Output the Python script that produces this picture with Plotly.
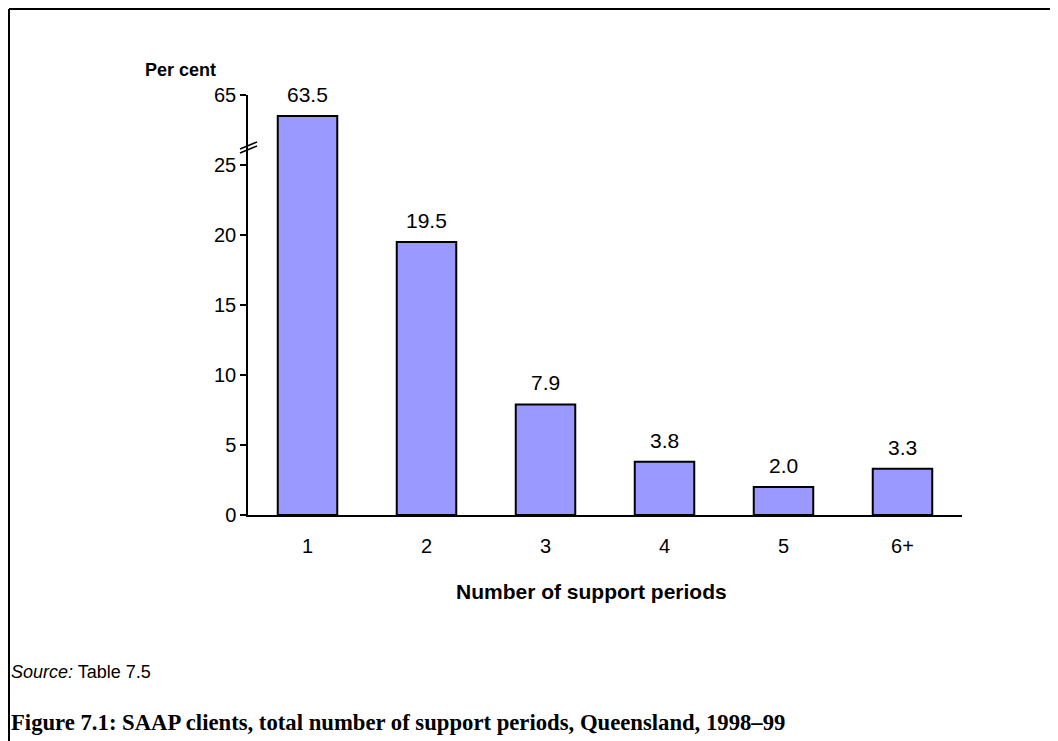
import plotly.graph_objects as go

categories = ["1", "2", "3", "4", "5", "6+"]
values = [63.5, 19.5, 7.9, 3.8, 2.0, 3.3]
tick_values = [0, 5, 10, 15, 20, 25, 65]

# broken axis: the band between BREAK_LOW and BREAK_HIGH is cut out
BREAK_LOW, BREAK_HIGH = 25, 60


def axis_pos(v):
    return v if v <= BREAK_LOW else v - (BREAK_HIGH - BREAK_LOW)


OFF = 8  # page body margin
W, H = 1058 - OFF, 741 - OFF
L, T = 248 - OFF, 95 - OFF
PW, PH = 714, 420
R, B = W - L - PW, H - T - PH


def px(x):
    return (x - OFF - L) / PW


def py(y):
    return (T + PH - (y - OFF)) / PH


plotted = [axis_pos(v) for v in values]
idx = list(range(len(categories)))

fig = go.Figure()
fig.add_trace(go.Bar(
    x=idx, y=plotted, width=0.5,
    marker=dict(color="#9999FF", line=dict(color="black", width=2)),
    hoverinfo="skip",
))

font = "Liberation Sans, Arial, sans-serif"
annotations = []
for i, v, p in zip(idx, values, plotted):
    annotations.append(dict(x=i, y=p, text=f"{v:.1f}", showarrow=False,
                            yanchor="bottom", yshift=8,
                            font=dict(family=font, size=21, color="black")))

annotations += [
    dict(x=px(180), y=py(70), xref="paper", yref="paper", xanchor="center", yanchor="middle",
         text="<b>Per cent</b>",
         showarrow=False, font=dict(family=font, size=18, color="black")),
    dict(x=px(591), y=py(591), xref="paper", yref="paper", xanchor="center", yanchor="middle",
         text="<b>Number of support periods</b>", showarrow=False,
         font=dict(family=font, size=21, color="black")),
    dict(x=px(9), y=py(672), xref="paper", yref="paper", xanchor="left", yanchor="middle",
         text="<i>Source:</i> Table 7.5", showarrow=False,
         font=dict(family=font, size=18, color="black")),
    dict(x=px(9), y=py(722), xref="paper", yref="paper", xanchor="left", yanchor="middle",
         text="<b>Figure 7.1: SAAP clients, total number of support periods, Queensland, 1998–99</b>",
         showarrow=False,
         font=dict(family="Liberation Serif, serif", size=22.7, color="black")),
]

shapes = [
    # outer frame (top and left)
    dict(type="line", xref="paper", yref="paper", x0=px(OFF + 1), x1=px(1070), y0=py(OFF + 1), y1=py(OFF + 1),
         line=dict(color="black", width=2)),
    dict(type="line", xref="paper", yref="paper", x0=px(OFF + 1), x1=px(OFF + 1), y0=py(OFF + 1), y1=py(760),
         line=dict(color="black", width=2)),
    # axis break marks
    dict(type="line", xref="paper", yref="paper", x0=px(240), x1=px(257), y0=py(153), y1=py(146),
         line=dict(color="black", width=1.5)),
    dict(type="line", xref="paper", yref="paper", x0=px(240), x1=px(257), y0=py(149), y1=py(142),
         line=dict(color="black", width=1.5)),
]

fig.update_layout(
    width=W, height=H,
    margin=dict(l=L, r=R, t=T, b=B, pad=0),
    paper_bgcolor="white", plot_bgcolor="white",
    showlegend=False,
    annotations=annotations,
    shapes=shapes,
    font=dict(family=font, size=20, color="black"),
)
fig.update_xaxes(
    range=[-0.5, 5.5], tickvals=idx, ticktext=categories,
    showline=True, linecolor="black", linewidth=1.5,
    ticks="", tickfont=dict(size=20), ticklabelstandoff=12, showgrid=False, zeroline=False,
)
fig.update_yaxes(
    range=[0, axis_pos(65)], tickvals=[axis_pos(t) for t in tick_values],
    ticktext=[str(t) for t in tick_values],
    showline=True, linecolor="black", linewidth=1.5, ticks="outside", ticklen=6,
    tickcolor="black", tickwidth=1.5, tickfont=dict(size=20), showgrid=False, zeroline=False,
)

fig.write_html("out.html")
